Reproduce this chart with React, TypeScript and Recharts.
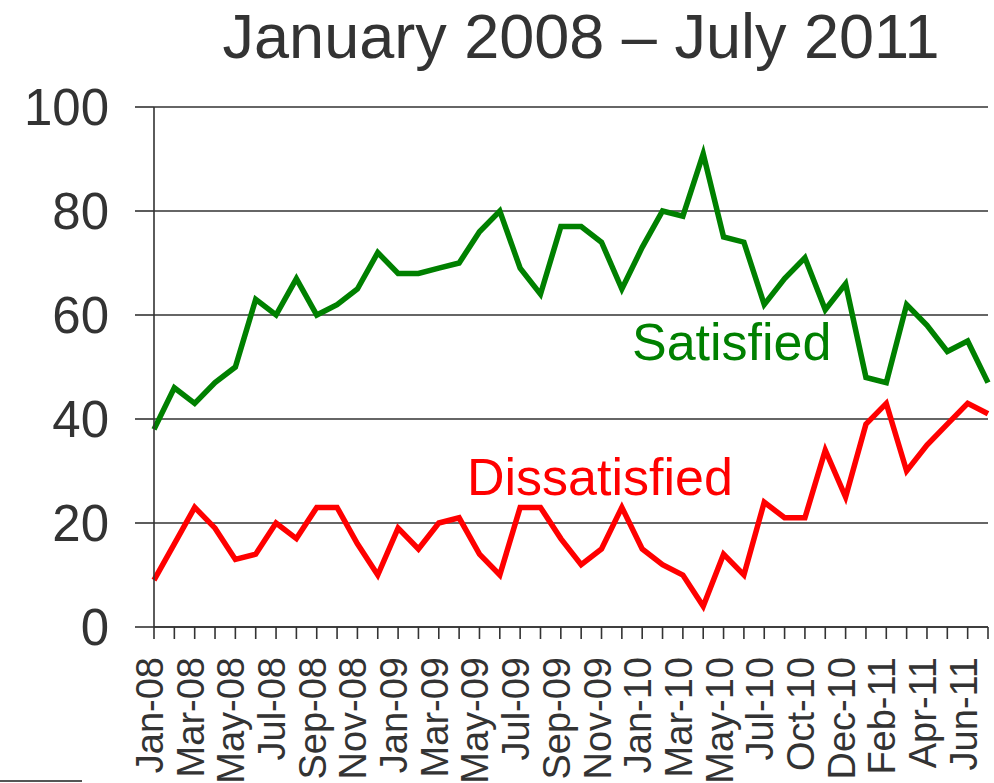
import { LineChart, Line, XAxis, YAxis, CartesianGrid } from 'recharts'

const months = [
  'Jan-08', 'Feb-08', 'Mar-08', 'Apr-08', 'May-08', 'Jun-08', 'Jul-08', 'Aug-08', 'Sep-08', 'Oct-08', 'Nov-08', 'Dec-08',
  'Jan-09', 'Feb-09', 'Mar-09', 'Apr-09', 'May-09', 'Jun-09', 'Jul-09', 'Aug-09', 'Sep-09', 'Oct-09', 'Nov-09', 'Dec-09',
  'Jan-10', 'Feb-10', 'Mar-10', 'Apr-10', 'May-10', 'Jun-10', 'Jul-10', 'Aug-10', 'Oct-10', 'Nov-10', 'Dec-10',
  'Jan-11', 'Feb-11', 'Mar-11', 'Apr-11', 'May-11', 'Jun-11', 'Jul-11',
]

const satisfied = [
  38, 46, 43, 47, 50, 63, 60, 67, 60, 62, 65, 72,
  68, 68, 69, 70, 76, 80, 69, 64, 77, 77, 74, 65,
  73, 80, 79, 91, 75, 74, 62, 67, 71, 61, 66,
  48, 47, 62, 58, 53, 55, 47,
]

const dissatisfied = [
  9, 16, 23, 19, 13, 14, 20, 17, 23, 23, 16, 10,
  19, 15, 20, 21, 14, 10, 23, 23, 17, 12, 15, 23,
  15, 12, 10, 4, 14, 10, 24, 21, 21, 34, 25,
  39, 43, 30, 35, 39, 43, 41,
]

const yTicks = [0, 20, 40, 60, 80, 100]

const data = months.map((m, i) => ({ month: m, satisfied: satisfied[i], dissatisfied: dissatisfied[i] }))

const FONT = '"Liberation Sans", Arial, Helvetica, sans-serif'

// every point gets a tick mark, only every other one a label
function MonthTick(props: any) {
  const { x, y, payload, index } = props
  if (index % 2 !== 0) return null
  return (
    <text
      x={x}
      y={y}
      dy={9}
      transform={`rotate(-90, ${x}, ${y})`}
      textAnchor="end"
      fontSize={38}
      fill="#333"
      fontFamily={FONT}
    >
      {payload.value}
    </text>
  )
}

export default function App() {
  return (
    <div style={{ position: 'absolute', left: 0, top: 0, width: 994, height: 783, background: '#fff' }}>
      <LineChart
        width={994}
        height={783}
        data={data}
        margin={{ top: 107, right: 6, left: 0, bottom: 0 }}
      >
        <text x={581} y={58} textAnchor="middle" fontSize={63} fill="#333" fontFamily={FONT}>
          January 2008 – July 2011
        </text>
        <CartesianGrid vertical={false} stroke="#333" strokeWidth={1.6} />
        <XAxis
          dataKey="month"
          interval={0}
          height={156}
          tick={<MonthTick />}
          tickSize={12}
          tickMargin={18}
          axisLine={{ stroke: '#333', strokeWidth: 1.6 }}
          tickLine={{ stroke: '#333', strokeWidth: 1.6 }}
        />
        <YAxis
          domain={[0, 100]}
          ticks={yTicks}
          width={154}
          tickSize={19}
          tickMargin={26}
          tick={{ fontSize: 51, fill: '#333', fontFamily: FONT }}
          axisLine={{ stroke: '#333', strokeWidth: 1.6 }}
          tickLine={{ stroke: '#333', strokeWidth: 1.6 }}
        />
        <Line type="linear" dataKey="satisfied" stroke="#008000" strokeWidth={5.5} dot={false} isAnimationActive={false} />
        <Line type="linear" dataKey="dissatisfied" stroke="#ff0000" strokeWidth={5.5} dot={false} isAnimationActive={false} />
        <text x={632} y={360} fontSize={52} fill="#008000" fontFamily={FONT}>Satisfied</text>
        <text x={467} y={495} fontSize={52} fill="#ff0000" fontFamily={FONT}>Dissatisfied</text>
      </LineChart>
      <div style={{ position: 'absolute', left: 0, top: 780, width: 82, height: 2, background: '#555' }} />
    </div>
  )
}
